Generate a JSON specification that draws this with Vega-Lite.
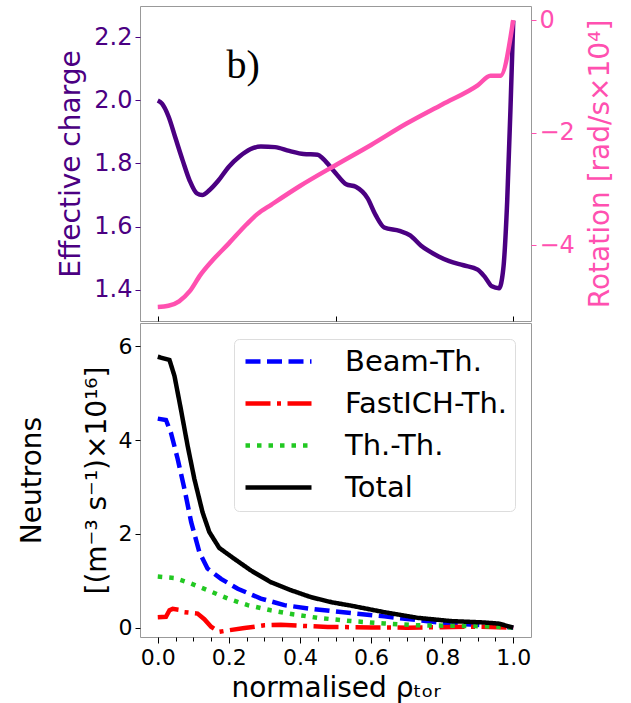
{
  "$schema": "https://vega.github.io/schema/vega-lite/v6.json",
  "background": "white",
  "padding": {"left": 17, "top": 5, "right": 0, "bottom": 0},
  "spacing": 0,
  "config": {
    "view": {"stroke": "#999999", "strokeWidth": 1},
    "axis": {"labelFont": "DejaVu Sans", "titleFont": "DejaVu Sans", "titleFontWeight": "normal", "grid": false, "domain": false},
    "concat": {"spacing": 0}
  },
  "resolve": {"scale": {"color": "independent", "strokeDash": "independent", "strokeWidth": "independent"}, "legend": {"color": "independent", "strokeDash": "independent"}},
  "datasets": {
    "zeff": [
      {"rho": 0.0, "zeff": 2.0}, {"rho": 0.012, "zeff": 1.99}, {"rho": 0.03, "zeff": 1.95}, {"rho": 0.05, "zeff": 1.88},
      {"rho": 0.07, "zeff": 1.81}, {"rho": 0.09, "zeff": 1.745}, {"rho": 0.11, "zeff": 1.705}, {"rho": 0.125, "zeff": 1.7},
      {"rho": 0.145, "zeff": 1.715}, {"rho": 0.17, "zeff": 1.745}, {"rho": 0.2, "zeff": 1.79}, {"rho": 0.23, "zeff": 1.822},
      {"rho": 0.26, "zeff": 1.845}, {"rho": 0.29, "zeff": 1.854}, {"rho": 0.33, "zeff": 1.852}, {"rho": 0.37, "zeff": 1.84},
      {"rho": 0.41, "zeff": 1.83}, {"rho": 0.45, "zeff": 1.828}, {"rho": 0.465, "zeff": 1.815}, {"rho": 0.5, "zeff": 1.77},
      {"rho": 0.53, "zeff": 1.734}, {"rho": 0.557, "zeff": 1.726}, {"rho": 0.59, "zeff": 1.69}, {"rho": 0.613, "zeff": 1.636},
      {"rho": 0.637, "zeff": 1.597}, {"rho": 0.68, "zeff": 1.586}, {"rho": 0.71, "zeff": 1.572}, {"rho": 0.74, "zeff": 1.54},
      {"rho": 0.76, "zeff": 1.524}, {"rho": 0.79, "zeff": 1.505}, {"rho": 0.82, "zeff": 1.49}, {"rho": 0.86, "zeff": 1.477},
      {"rho": 0.9, "zeff": 1.463}, {"rho": 0.92, "zeff": 1.44}, {"rho": 0.94, "zeff": 1.41}, {"rho": 0.96, "zeff": 1.404},
      {"rho": 0.972, "zeff": 1.465}, {"rho": 0.983, "zeff": 1.68}, {"rho": 0.993, "zeff": 2.0}, {"rho": 1.0, "zeff": 2.253}
    ],
    "rot": [
      {"rho": 0.0, "rot": -5.1}, {"rho": 0.03, "rot": -5.08}, {"rho": 0.06, "rot": -5.0}, {"rho": 0.09, "rot": -4.82},
      {"rho": 0.12, "rot": -4.53}, {"rho": 0.15, "rot": -4.3}, {"rho": 0.2, "rot": -3.97}, {"rho": 0.25, "rot": -3.63},
      {"rho": 0.28, "rot": -3.45}, {"rho": 0.32, "rot": -3.28}, {"rho": 0.4, "rot": -2.95}, {"rho": 0.5, "rot": -2.58},
      {"rho": 0.6, "rot": -2.22}, {"rho": 0.7, "rot": -1.84}, {"rho": 0.8, "rot": -1.5}, {"rho": 0.9, "rot": -1.16},
      {"rho": 0.936, "rot": -0.99}, {"rho": 0.964, "rot": -0.99}, {"rho": 1.0, "rot": 0.0}
    ],
    "neutrons": [
      {"s": "Beam-Th.", "rho": 0.0, "n": 4.46}, {"s": "Beam-Th.", "rho": 0.023, "n": 4.43}, {"s": "Beam-Th.", "rho": 0.037, "n": 4.16},
      {"s": "Beam-Th.", "rho": 0.056, "n": 3.6}, {"s": "Beam-Th.", "rho": 0.075, "n": 2.96}, {"s": "Beam-Th.", "rho": 0.094, "n": 2.25},
      {"s": "Beam-Th.", "rho": 0.117, "n": 1.61}, {"s": "Beam-Th.", "rho": 0.14, "n": 1.26}, {"s": "Beam-Th.", "rho": 0.178, "n": 1.04},
      {"s": "Beam-Th.", "rho": 0.225, "n": 0.83}, {"s": "Beam-Th.", "rho": 0.29, "n": 0.62}, {"s": "Beam-Th.", "rho": 0.356, "n": 0.48},
      {"s": "Beam-Th.", "rho": 0.431, "n": 0.4}, {"s": "Beam-Th.", "rho": 0.543, "n": 0.31}, {"s": "Beam-Th.", "rho": 0.637, "n": 0.24},
      {"s": "Beam-Th.", "rho": 0.73, "n": 0.16}, {"s": "Beam-Th.", "rho": 0.824, "n": 0.085}, {"s": "Beam-Th.", "rho": 0.9, "n": 0.06},
      {"s": "Beam-Th.", "rho": 0.96, "n": 0.035}, {"s": "Beam-Th.", "rho": 1.0, "n": 0.0},
      {"s": "FastICH-Th.", "rho": 0.0, "n": 0.22}, {"s": "FastICH-Th.", "rho": 0.023, "n": 0.23}, {"s": "FastICH-Th.", "rho": 0.033, "n": 0.37},
      {"s": "FastICH-Th.", "rho": 0.042, "n": 0.4}, {"s": "FastICH-Th.", "rho": 0.06, "n": 0.38}, {"s": "FastICH-Th.", "rho": 0.075, "n": 0.33},
      {"s": "FastICH-Th.", "rho": 0.112, "n": 0.3}, {"s": "FastICH-Th.", "rho": 0.131, "n": 0.18}, {"s": "FastICH-Th.", "rho": 0.15, "n": 0.02},
      {"s": "FastICH-Th.", "rho": 0.173, "n": -0.09}, {"s": "FastICH-Th.", "rho": 0.197, "n": -0.06}, {"s": "FastICH-Th.", "rho": 0.244, "n": -0.01},
      {"s": "FastICH-Th.", "rho": 0.3, "n": 0.05}, {"s": "FastICH-Th.", "rho": 0.346, "n": 0.06}, {"s": "FastICH-Th.", "rho": 0.412, "n": 0.035},
      {"s": "FastICH-Th.", "rho": 0.478, "n": 0.015}, {"s": "FastICH-Th.", "rho": 0.6, "n": 0.005}, {"s": "FastICH-Th.", "rho": 0.7, "n": 0.0},
      {"s": "FastICH-Th.", "rho": 0.8, "n": 0.01}, {"s": "FastICH-Th.", "rho": 0.9, "n": 0.02}, {"s": "FastICH-Th.", "rho": 1.0, "n": 0.0},
      {"s": "Th.-Th.", "rho": 0.0, "n": 1.09}, {"s": "Th.-Th.", "rho": 0.047, "n": 1.06}, {"s": "Th.-Th.", "rho": 0.094, "n": 0.94},
      {"s": "Th.-Th.", "rho": 0.14, "n": 0.8}, {"s": "Th.-Th.", "rho": 0.197, "n": 0.62}, {"s": "Th.-Th.", "rho": 0.253, "n": 0.48},
      {"s": "Th.-Th.", "rho": 0.318, "n": 0.37}, {"s": "Th.-Th.", "rho": 0.384, "n": 0.28}, {"s": "Th.-Th.", "rho": 0.449, "n": 0.21},
      {"s": "Th.-Th.", "rho": 0.543, "n": 0.14}, {"s": "Th.-Th.", "rho": 0.637, "n": 0.09}, {"s": "Th.-Th.", "rho": 0.73, "n": 0.05},
      {"s": "Th.-Th.", "rho": 0.82, "n": 0.04}, {"s": "Th.-Th.", "rho": 0.918, "n": 0.03}, {"s": "Th.-Th.", "rho": 1.0, "n": 0.0},
      {"s": "Total", "rho": 0.0, "n": 5.78}, {"s": "Total", "rho": 0.033, "n": 5.71}, {"s": "Total", "rho": 0.047, "n": 5.37},
      {"s": "Total", "rho": 0.065, "n": 4.66}, {"s": "Total", "rho": 0.084, "n": 3.88}, {"s": "Total", "rho": 0.103, "n": 3.17},
      {"s": "Total", "rho": 0.126, "n": 2.46}, {"s": "Total", "rho": 0.145, "n": 2.04}, {"s": "Total", "rho": 0.173, "n": 1.7},
      {"s": "Total", "rho": 0.215, "n": 1.47}, {"s": "Total", "rho": 0.262, "n": 1.22}, {"s": "Total", "rho": 0.318, "n": 0.97},
      {"s": "Total", "rho": 0.374, "n": 0.8}, {"s": "Total", "rho": 0.431, "n": 0.65}, {"s": "Total", "rho": 0.49, "n": 0.54},
      {"s": "Total", "rho": 0.543, "n": 0.47}, {"s": "Total", "rho": 0.637, "n": 0.33}, {"s": "Total", "rho": 0.73, "n": 0.21},
      {"s": "Total", "rho": 0.824, "n": 0.14}, {"s": "Total", "rho": 0.918, "n": 0.11}, {"s": "Total", "rho": 0.96, "n": 0.085},
      {"s": "Total", "rho": 1.0, "n": 0.0}
    ]
  },
  "vconcat": [
    {
      "width": 391,
      "height": 315,
      "layer": [
        {
          "data": {"name": "zeff"},
          "mark": {"type": "line", "color": "#4b0082", "strokeWidth": 4.5, "interpolate": "monotone", "clip": true},
          "encoding": {
            "x": {"field": "rho", "type": "quantitative", "scale": {"domain": [-0.05, 1.05], "nice": false, "zero": false},
                  "axis": {"values": [0, 0.5, 1], "labels": false, "tickSize": -5, "tickColor": "black", "title": null}},
            "y": {"field": "zeff", "type": "quantitative", "scale": {"domain": [1.3, 2.3], "nice": false, "zero": false},
                  "axis": {"values": [1.4, 1.6, 1.8, 2.0, 2.2], "format": ".1f", "labelFontSize": 24, "labelColor": "#4b0082", "tickColor": "#4b0082", "tickSize": 5, "labelPadding": 3,
                           "title": "Effective charge", "titleFontSize": 28, "titleColor": "#4b0082", "titlePadding": 8}}
          }
        },
        {
          "data": {"name": "rot"},
          "mark": {"type": "line", "color": "#ff50b0", "strokeWidth": 4.5, "interpolate": "monotone", "clip": true},
          "encoding": {
            "x": {"field": "rho", "type": "quantitative"},
            "y": {"field": "rot", "type": "quantitative", "scale": {"domain": [-5.35, 0.25], "nice": false, "zero": false},
                  "axis": {"orient": "right", "values": [-4, -2, 0], "format": "d", "labelFontSize": 24, "labelColor": "#ff50b0", "tickColor": "#ff50b0", "tickSize": 5, "labelPadding": 3,
                           "title": "Rotation [rad/s×10⁴]", "titleFontSize": 28, "titleColor": "#ff50b0", "titleAngle": 270, "titleBaseline": "top", "titlePadding": 12}}
          }
        },
        {
          "data": {"values": [{"label": "b)", "rho": 0.24, "v": 2.07}]},
          "mark": {"type": "text", "font": "Liberation Serif", "fontSize": 40, "align": "center", "baseline": "alphabetic", "color": "black"},
          "encoding": {
            "x": {"field": "rho", "type": "quantitative"},
            "y": {"field": "v", "type": "quantitative", "scale": {"domain": [1.3, 2.3], "nice": false, "zero": false}, "axis": null},
            "text": {"field": "label"}
          }
        }
      ],
      "resolve": {"scale": {"y": "independent"}}
    },
    {
      "width": 391,
      "height": 314,
      "data": {"name": "neutrons"},
      "mark": {"type": "line", "clip": true},
      "encoding": {
        "x": {"field": "rho", "type": "quantitative", "scale": {"domain": [-0.05, 1.05], "nice": false, "zero": false},
              "axis": {"values": [0, 0.05, 0.1, 0.15, 0.2, 0.25, 0.3, 0.35, 0.4, 0.45, 0.5, 0.55, 0.6, 0.65, 0.7, 0.75, 0.8, 0.85, 0.9, 0.95, 1.0],
                       "labelExpr": "abs(datum.value*5 - round(datum.value*5)) < 0.001 ? format(datum.value, '.1f') : ''",
                       "labelFlush": false, "labelOverlap": false, "labelFontSize": 22, "labelColor": "black", "labelPadding": 4,
                       "tickColor": "black", "tickSize": {"condition": {"test": "abs(datum.value*5 - round(datum.value*5)) < 0.001", "value": 6}, "value": 4},
                       "title": "normalised ρₜₒᵣ", "titleFontSize": 28, "titleColor": "black", "titlePadding": 6}},
        "y": {"field": "n", "type": "quantitative", "scale": {"domain": [-0.2, 6.5], "nice": false, "zero": false},
              "axis": {"values": [0, 2, 4, 6], "labelFontSize": 22, "labelColor": "black", "tickColor": "black", "tickSize": 5, "labelPadding": 3,
                       "title": ["Neutrons", "[(m⁻³ s⁻¹)×10¹⁶]"], "titleFontSize": 28, "titleColor": "black", "titlePadding": 7, "titleLineHeight": 65}},
        "color": {"field": "s", "type": "nominal",
                  "scale": {"domain": ["Beam-Th.", "FastICH-Th.", "Th.-Th.", "Total"], "range": ["#0000ff", "#ff0000", "#22c822", "#000000"]},
                  "legend": {"title": null, "orient": "top-right", "offset": 16, "symbolType": "M-3.3,0H3.3", "symbolSize": 400, "symbolStrokeWidth": 4.5, "symbolOffset": 22,
                             "labelFontSize": 29, "labelFont": "DejaVu Sans", "labelColor": "black", "labelOffset": 52, "labelLimit": 400, "rowPadding": 12, "padding": 8,
                             "fillColor": "white", "strokeColor": "#dddddd", "cornerRadius": 5}},
        "strokeDash": {"field": "s", "type": "nominal",
                       "scale": {"domain": ["Beam-Th.", "FastICH-Th.", "Th.-Th.", "Total"], "range": [[15, 6.5], [25, 6.5, 4, 6.5], [4.5, 7], [1, 0]]},
                       "legend": {"title": null, "orient": "top-right", "offset": 16, "symbolType": "M-3.3,0H3.3", "symbolSize": 400, "symbolStrokeWidth": 4.5, "symbolOffset": 22,
                                  "labelFontSize": 29, "labelFont": "DejaVu Sans", "labelColor": "black", "labelOffset": 52, "labelLimit": 400, "rowPadding": 12, "padding": 8,
                                  "fillColor": "white", "strokeColor": "#dddddd", "cornerRadius": 5}},
        "strokeWidth": {"field": "s", "type": "ordinal",
                        "scale": {"domain": ["Beam-Th.", "FastICH-Th.", "Th.-Th.", "Total"], "range": [4.5, 4.5, 4.5, 5.5]}, "legend": null}
      }
    }
  ]
}
